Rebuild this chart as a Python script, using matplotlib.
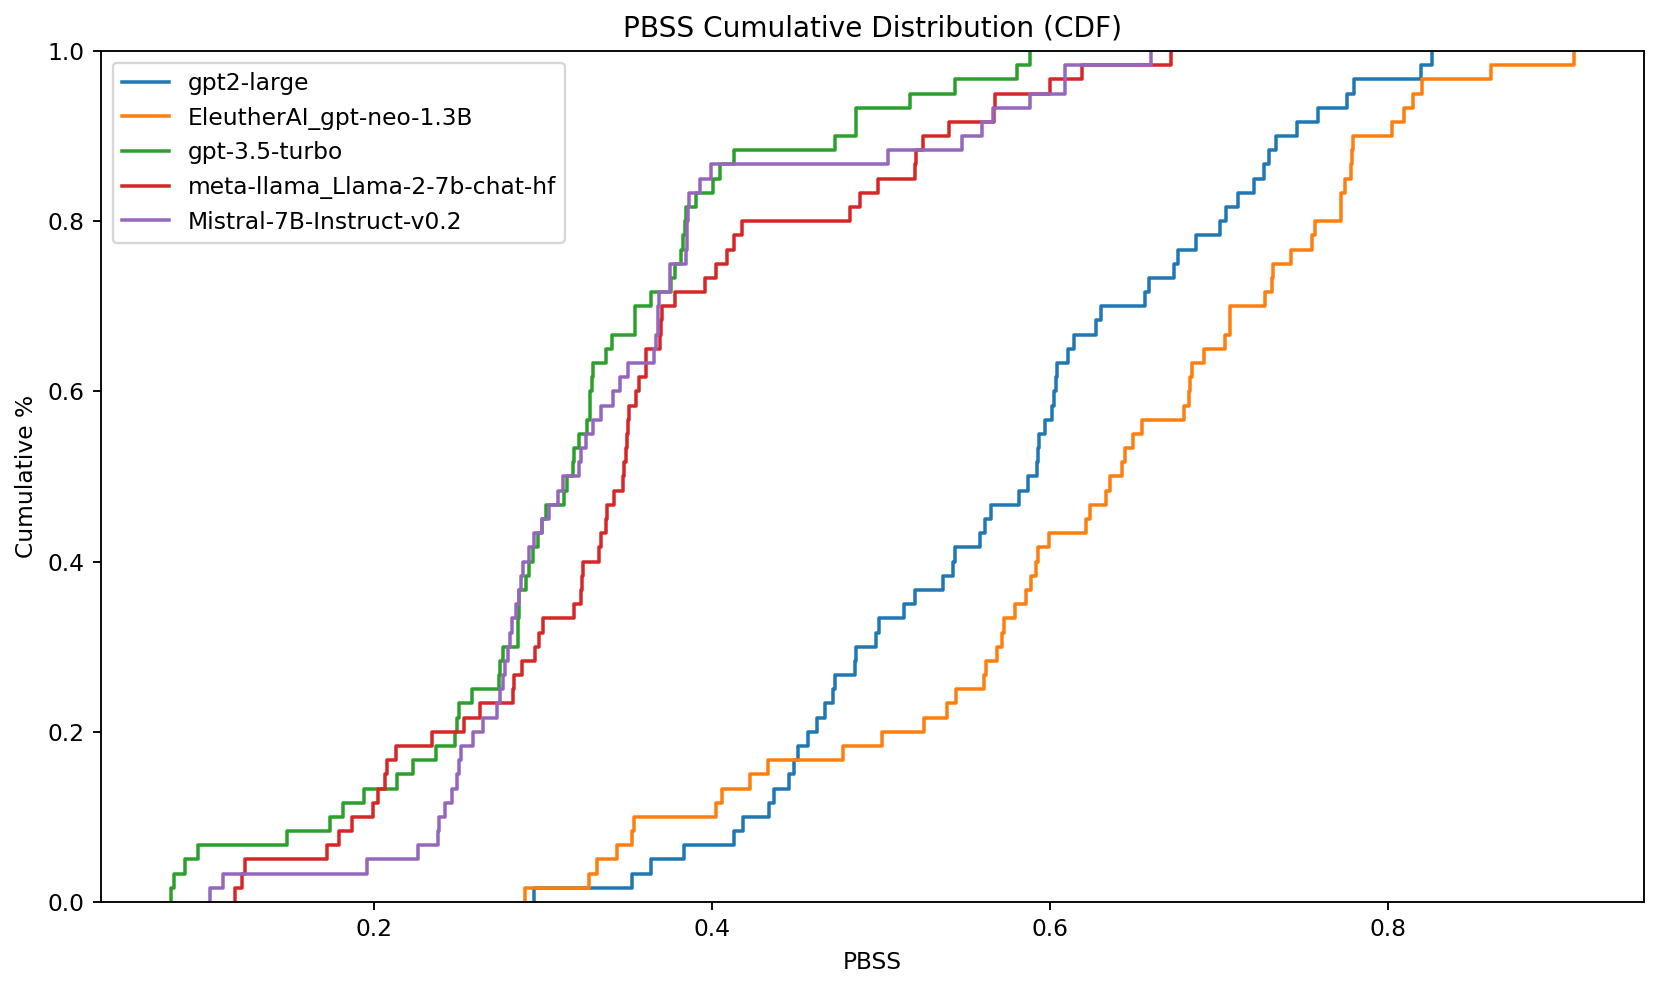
import numpy as np
import matplotlib
matplotlib.use("Agg")
import matplotlib.pyplot as plt

gpt2_large = [
    0.2944, 0.3527, 0.3640, 0.3833, 0.4129, 0.4181, 0.4337, 0.4364, 0.4453, 0.4486,
    0.4509, 0.4570, 0.4621, 0.4667, 0.4716, 0.4726, 0.4848, 0.4850, 0.4969, 0.4989,
    0.5135, 0.5200, 0.5364, 0.5427, 0.5435, 0.5585, 0.5615, 0.5649, 0.5818, 0.5872,
    0.5921, 0.5931, 0.5937, 0.5970, 0.6010, 0.6022, 0.6036, 0.6042, 0.6108, 0.6142,
    0.6269, 0.6301, 0.6563, 0.6583, 0.6731, 0.6755, 0.6864, 0.7004, 0.7043, 0.7110,
    0.7209, 0.7268, 0.7294, 0.7339, 0.7462, 0.7584, 0.7758, 0.7801, 0.8197, 0.8262,
]
gpt_neo = [
    0.2895, 0.3270, 0.3317, 0.3436, 0.3527, 0.3535, 0.4021, 0.4058, 0.4226, 0.4331,
    0.4774, 0.5006, 0.5253, 0.5392, 0.5443, 0.5609, 0.5621, 0.5684, 0.5714, 0.5727,
    0.5790, 0.5855, 0.5885, 0.5915, 0.5931, 0.5996, 0.6211, 0.6237, 0.6332, 0.6356,
    0.6425, 0.6444, 0.6488, 0.6543, 0.6790, 0.6820, 0.6826, 0.6840, 0.6909, 0.7037,
    0.7067, 0.7067, 0.7274, 0.7314, 0.7320, 0.7426, 0.7551, 0.7570, 0.7719, 0.7723,
    0.7748, 0.7778, 0.7788, 0.7794, 0.8025, 0.8094, 0.8149, 0.8203, 0.8607, 0.9100,
]
gpt35_turbo = [
    0.0799, 0.0815, 0.0880, 0.0957, 0.1486, 0.1737, 0.1818, 0.1941, 0.2138, 0.2231,
    0.2365, 0.2480, 0.2490, 0.2504, 0.2577, 0.2737, 0.2745, 0.2764, 0.2849, 0.2852,
    0.2856, 0.2859, 0.2899, 0.2914, 0.2942, 0.2968, 0.2993, 0.3017, 0.3122, 0.3140,
    0.3175, 0.3181, 0.3215, 0.3258, 0.3278, 0.3280, 0.3290, 0.3298, 0.3373, 0.3408,
    0.3541, 0.3541, 0.3636, 0.3758, 0.3778, 0.3817, 0.3827, 0.3837, 0.3847, 0.3906,
    0.4005, 0.4044, 0.4129, 0.4726, 0.4854, 0.4854, 0.5170, 0.5437, 0.5806, 0.5881,
]
llama2_7b = [
    0.1176, 0.1216, 0.1236, 0.1723, 0.1793, 0.1868, 0.1996, 0.2020, 0.2065, 0.2077,
    0.2132, 0.2342, 0.2533, 0.2626, 0.2820, 0.2830, 0.2875, 0.2954, 0.2974, 0.3001,
    0.3185, 0.3225, 0.3232, 0.3235, 0.3333, 0.3343, 0.3373, 0.3379, 0.3422, 0.3472,
    0.3481, 0.3491, 0.3495, 0.3500, 0.3507, 0.3551, 0.3570, 0.3607, 0.3610, 0.3689,
    0.3698, 0.3705, 0.3778, 0.3956, 0.4025, 0.4088, 0.4127, 0.4176, 0.4815, 0.4878,
    0.4983, 0.5200, 0.5206, 0.5249, 0.5403, 0.5670, 0.5672, 0.6000, 0.6188, 0.6717,
]
mistral_7b = [
    0.1026, 0.1105, 0.1960, 0.2257, 0.2375, 0.2381, 0.2421, 0.2460, 0.2490, 0.2500,
    0.2517, 0.2587, 0.2646, 0.2725, 0.2745, 0.2760, 0.2776, 0.2790, 0.2804, 0.2816,
    0.2840, 0.2855, 0.2869, 0.2879, 0.2919, 0.2948, 0.2994, 0.3037, 0.3086, 0.3116,
    0.3211, 0.3225, 0.3254, 0.3294, 0.3343, 0.3416, 0.3456, 0.3501, 0.3659, 0.3669,
    0.3679, 0.3682, 0.3685, 0.3748, 0.3748, 0.3847, 0.3850, 0.3853, 0.3857, 0.3865,
    0.3926, 0.3995, 0.5039, 0.5477, 0.5595, 0.5664, 0.5881, 0.6089, 0.6089, 0.6597,
]

models = ['gpt2-large', 'EleutherAI_gpt-neo-1.3B', 'gpt-3.5-turbo',
          'meta-llama_Llama-2-7b-chat-hf', 'Mistral-7B-Instruct-v0.2']
scores = [gpt2_large, gpt_neo, gpt35_turbo, llama2_7b, mistral_7b]

dpi = 168
fig = plt.figure(figsize=(1662 / dpi, 990 / dpi), dpi=dpi)
ax = fig.add_axes([0.0608, 0.0889, 0.9284, 0.8596])

for name, vals in zip(models, scores):
    x = np.sort(np.array(vals))
    y = np.arange(1, len(x) + 1) / len(x)
    # start each curve at 0 so the first jump is drawn
    ax.step(np.concatenate([[x[0]], x]), np.concatenate([[0], y]),
            where='post', label=name, linewidth=1.5)

ax.set_ylim(0, 1)
ax.set_title('PBSS Cumulative Distribution (CDF)')
ax.set_xlabel('PBSS')
ax.set_ylabel('Cumulative %')
ax.legend(loc='upper left')

fig.savefig('out.png', dpi=dpi)
